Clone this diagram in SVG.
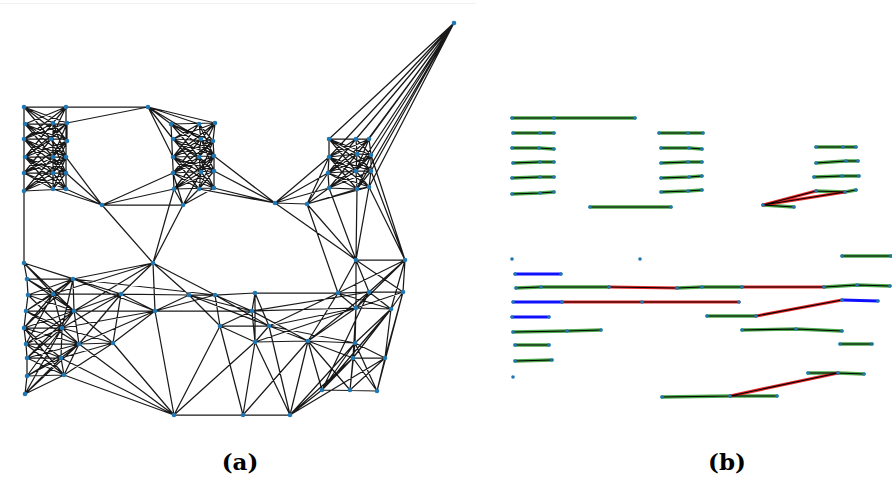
<svg xmlns="http://www.w3.org/2000/svg" width="892" height="480" viewBox="0 0 892 480">
<defs>
<style>
.e{fill:none;stroke:#000;stroke-width:1.25;stroke-opacity:0.9;stroke-linecap:round}
.n circle{fill:#1f77b4}
.na circle{r:2.3}
.nb circle{r:1.8}
.g{fill:none;stroke:#2b9a2b;stroke-width:3.4;stroke-opacity:0.85;stroke-linecap:round}
.r{fill:none;stroke:#e41010;stroke-width:3.2;stroke-opacity:0.9;stroke-linecap:round}
.b{fill:none;stroke:#1010ff;stroke-width:2.8;stroke-linecap:round}
.k{fill:none;stroke:#000;stroke-width:1.1;stroke-linecap:round}
.cap{font-family:"DejaVu Serif","Liberation Serif",serif;font-weight:bold;font-size:23px;text-anchor:middle;fill:#000}
</style>
</defs>
<rect width="892" height="480" fill="#fff"/>
<line x1="0" y1="3.5" x2="476" y2="3.5" stroke="#f0f0f0" stroke-width="1"/>

<g id="connectors-a" class="e">
<path d="M24 107H148 M25 124H67 M24 139H67 M25 157H66 M24 173H66 M24 191L66 189 M24 107V191 M66 107V189 M53 123V189 M67 123V141
M24 107L53 123 M24 107L67 123 M66 107L25 124 M66 107L53 123
M25 124L51 139 M25 124L67 141 M53 123L24 139 M53 123L67 141 M67 123L24 139 M67 123L51 139
M24 139L53 157 M24 139L66 157 M51 139L25 157 M51 139L66 157 M67 141L25 157 M67 141L53 157
M25 157L53 173 M25 157L66 173 M53 157L24 173 M53 157L66 173 M66 157L24 173 M66 157L53 173
M24 173L53 189 M24 173L66 189 M53 173L24 191 M53 173L66 189 M66 173L24 191 M66 173L53 189
M24 107L51 139 M24 107L67 141 M66 107L24 139 M66 107L51 139
M25 124L53 157 M25 124L66 157 M53 123L25 157 M53 123L66 157 M67 123L25 157 M67 123L53 157
M24 139L53 173 M24 139L66 173 M51 139L24 173 M51 139L66 173 M67 141L24 173 M67 141L53 173
M25 157L53 189 M25 157L66 189 M53 157L24 191 M53 157L66 189 M66 157L24 191 M66 157L53 189"/>
<path d="M171 124L215 123 M173 139L213 141 M173 157L214 156 M173 173L214 171 M174 189L214 188 M171 124L174 189 M199 124L201 139L199 157L201 172L199 189 M215 123L213 141L214 156L214 171L214 188
M171 124L201 139 M171 124L213 141 M199 124L173 139 M199 124L213 141 M215 123L173 139 M215 123L201 139
M173 139L199 157 M173 139L214 156 M201 139L173 157 M201 139L214 156 M213 141L173 157 M213 141L199 157
M173 157L201 172 M173 157L214 171 M199 157L173 173 M199 157L214 171 M214 156L173 173 M214 156L201 172
M173 173L199 189 M173 173L214 188 M201 172L174 189 M201 172L214 188 M214 171L174 189 M214 171L199 189
M171 124L199 157 M171 124L214 156 M199 124L173 157 M215 123L173 157 M215 123L199 157 M199 124L214 156
M173 139L201 172 M173 139L214 171 M201 139L173 173 M213 141L173 173 M213 141L201 172 M201 139L214 171
M173 157L199 189 M173 157L214 188 M199 157L174 189 M214 156L174 189 M214 156L199 189 M199 157L214 188"/>
<path d="M329 139H369 M329 157L357 154L371 155 M328 173L356 171L371 171 M329 188L357 189L369 187 M329 139L329 157L328 173L329 188 M356 139L357 154L356 171L357 189 M369 139L371 155L371 171L369 187
M329 139L357 154 M329 139L371 155 M356 139L329 157 M356 139L371 155 M369 139L329 157 M369 139L357 154
M329 157L356 171 M329 157L371 171 M357 154L328 173 M357 154L371 171 M371 155L328 173 M371 155L356 171
M328 173L357 189 M328 173L369 187 M356 171L329 188 M356 171L369 187 M371 171L329 188 M371 171L357 189
M329 139L356 171 M329 139L371 171 M356 139L328 173 M369 139L328 173 M369 139L356 171
M329 157L357 189 M329 157L369 187 M357 154L329 188 M371 155L329 188 M371 155L357 189
M454 23L329 139 M454 23L356 139 M454 23L369 139 M454 23L329 157 M454 23L357 154 M454 23L371 155 M454 23L356 171 M454 23L371 171 M454 23L357 189 M454 23L369 187"/>
<path d="M67 123L148 107 M148 107L171 124 M148 107L199 124 M148 107L215 123 M148 107L173 139 M148 107L173 157 M148 107L201 139
M66 157L102 205 M66 173L102 205 M66 189L102 205 M53 189L102 205 M24 191L24 263
M102 205L183 205 M102 205L173 173 M102 205L174 189
M183 205L174 189 M183 205L199 189 M183 205L214 188 M183 205L173 173 M183 205L201 172
M214 171L275 203 M214 188L275 203 M199 189L275 203 M214 156L275 203 M275 203L307 204
M275 203L329 157 M275 203L328 173 M275 203L329 188 M307 204L329 188 M307 204L357 189 M307 204L369 187 M307 204L328 173 M307 204L329 157
M153 263L102 205 M153 263L183 205 M174 189L153 263
M275 203L356 260 M307 204L356 260 M307 204L338 293 M357 189L356 260 M329 188L356 260 M369 187L405 260 M371 171L405 260 M371 155L405 260 M369 187L356 260"/>
<path d="M24 263L27 279L28 295L26 311L24 328L26 344L27 358L27 376L25 394 M73 279L53 294L74 311L62 328L79 344L61 358L64 375
M27 279H73 M28 295L53 294 M26 311L74 311 M24 328L62 328 M26 344L79 344 M27 358L61 358 M27 376L64 375
M73 279L24 263 M73 279L28 295 M73 279L26 311 M73 279L24 328 M73 279L74 311 M73 279L62 328
M53 294L24 263 M53 294L27 279 M53 294L26 311 M53 294L24 328 M53 294L62 328 M53 294L26 344
M74 311L27 279 M74 311L28 295 M74 311L24 328 M74 311L26 344 M74 311L79 344 M74 311L27 358
M62 328L28 295 M62 328L26 311 M62 328L26 344 M62 328L27 358 M62 328L61 358 M62 328L27 376
M79 344L26 311 M79 344L24 328 M79 344L27 358 M79 344L27 376 M79 344L64 375 M79 344L25 394
M61 358L24 328 M61 358L26 344 M61 358L27 376 M61 358L25 394
M64 375L26 344 M64 375L27 358 M64 375L25 394 M64 375L24 328 M25 394L62 328
M24 263L74 311 M24 263L121 294
M73 279L153 263 M73 279L121 294 M73 279L215 295 M73 279L155 311
M53 294L121 294L189 295L215 295L255 293L338 293L369 292L403 292
M74 311L155 311L252 311
M121 294L74 311 M121 294L62 328 M121 294L113 343 M121 294L79 344 M121 294L155 311
M113 343L79 344 M113 343L62 328 M113 343L64 375 M113 343L174 415 M113 343L155 311 M113 343L74 311 M113 343L61 358
M155 311L174 415 M155 311L62 328 M155 311L79 344 M155 311L189 295 M155 311L215 295
M64 375L174 415 M61 358L174 415 M79 344L174 415
M153 263L121 294 M153 263L155 311 M153 263L189 295 M153 263L215 295 M153 263L74 311 M153 263L53 294"/>
<path d="M189 295L220 326 M215 295L220 326 M215 295L252 311 M255 293L252 311 M255 293L255 342 M255 293L269 326 M189 295L252 311 M189 295L269 326 M215 295L269 326 M252 311L255 342 M252 311L220 326 M220 326L269 326 M269 326L308 341 M255 342L308 341 M252 311L308 341 M255 342L269 326 M220 326L255 342
M220 326L174 415 M220 326L243 415 M255 342L243 415 M255 342L290 415 M308 341L290 415 M308 341L243 415 M255 342L174 415 M269 326L290 415
M174 415L243 415L290 415
M269 326L338 293 M269 326L356 308 M252 311L356 308 M308 341L338 293 M308 341L356 308 M308 341L369 292 M308 341L355 343 M308 341L353 358 M308 341L322 390 M308 341L350 390 M255 342L356 308 M269 326L355 343 M252 311L369 292"/>
<path d="M356 260L405 260 M356 260L338 293 M356 260L369 292 M356 260L356 308 M356 260L403 292 M405 260L403 292 M405 260L369 292 M405 260L338 293 M405 260L391 309 M405 260L356 308
M338 293L356 308 M338 293L391 309 M369 292L356 308 M369 292L391 309 M403 292L391 309 M403 292L356 308 M356 308L391 309 M403 292L385 358 M403 292L377 391
M356 308L355 343 M356 308L353 358 M391 309L355 343 M391 309L385 358 M391 309L353 358 M355 343L353 358 M355 343L385 358 M353 358L385 358 M353 358L322 390 M353 358L350 390 M353 358L377 391 M385 358L350 390 M385 358L377 391 M322 390L377 391 M322 390L355 343 M350 390L355 343 M377 391L355 343
M290 415L322 390 M290 415L353 358 M290 415L355 343 M290 415L385 358 M369 292L322 390 M391 309L322 390"/>
</g>

<g class="n na">
<g id="a-L0"><circle cx="24" cy="107"/></g><g id="a-L1"><circle cx="66" cy="107"/></g>
<g id="a-L2"><circle cx="25" cy="124"/></g><g id="a-L3"><circle cx="53" cy="123"/></g><g id="a-L4"><circle cx="67" cy="123"/></g>
<g id="a-L5"><circle cx="24" cy="139"/></g><g id="a-L6"><circle cx="51" cy="139"/></g><g id="a-L7"><circle cx="67" cy="141"/></g>
<g id="a-L8"><circle cx="25" cy="157"/></g><g id="a-L9"><circle cx="53" cy="157"/></g><g id="a-L10"><circle cx="66" cy="157"/></g>
<g id="a-L11"><circle cx="24" cy="173"/></g><g id="a-L12"><circle cx="53" cy="173"/></g><g id="a-L13"><circle cx="66" cy="173"/></g>
<g id="a-L14"><circle cx="24" cy="191"/></g><g id="a-L15"><circle cx="53" cy="189"/></g><g id="a-L16"><circle cx="66" cy="189"/></g>
<g id="a-T1"><circle cx="148" cy="107"/></g><g id="a-T2"><circle cx="102" cy="205"/></g><g id="a-T3"><circle cx="183" cy="205"/></g>
<g id="a-T4"><circle cx="275" cy="203"/></g><g id="a-T5"><circle cx="307" cy="204"/></g><g id="a-T6"><circle cx="454" cy="23"/></g>
<g id="a-M0"><circle cx="171" cy="124"/></g><g id="a-M1"><circle cx="199" cy="124"/></g><g id="a-M2"><circle cx="215" cy="123"/></g>
<g id="a-M3"><circle cx="173" cy="139"/></g><g id="a-M4"><circle cx="201" cy="139"/></g><g id="a-M5"><circle cx="213" cy="141"/></g>
<g id="a-M6"><circle cx="173" cy="157"/></g><g id="a-M7"><circle cx="199" cy="157"/></g><g id="a-M8"><circle cx="214" cy="156"/></g>
<g id="a-M9"><circle cx="173" cy="173"/></g><g id="a-M10"><circle cx="201" cy="172"/></g><g id="a-M11"><circle cx="214" cy="171"/></g>
<g id="a-M12"><circle cx="174" cy="189"/></g><g id="a-M13"><circle cx="199" cy="189"/></g><g id="a-M14"><circle cx="214" cy="188"/></g>
<g id="a-R0"><circle cx="329" cy="139"/></g><g id="a-R1"><circle cx="356" cy="139"/></g><g id="a-R2"><circle cx="369" cy="139"/></g>
<g id="a-R3"><circle cx="329" cy="157"/></g><g id="a-R4"><circle cx="357" cy="154"/></g><g id="a-R5"><circle cx="371" cy="155"/></g>
<g id="a-R6"><circle cx="328" cy="173"/></g><g id="a-R7"><circle cx="356" cy="171"/></g><g id="a-R8"><circle cx="371" cy="171"/></g>
<g id="a-R9"><circle cx="329" cy="188"/></g><g id="a-R10"><circle cx="357" cy="189"/></g><g id="a-R11"><circle cx="369" cy="187"/></g>
<g id="a-B0"><circle cx="24" cy="263"/></g><g id="a-B1"><circle cx="27" cy="279"/></g><g id="a-B2"><circle cx="73" cy="279"/></g>
<g id="a-B3"><circle cx="28" cy="295"/></g><g id="a-B4"><circle cx="53" cy="294"/></g><g id="a-B5"><circle cx="121" cy="294"/></g>
<g id="a-B6"><circle cx="26" cy="311"/></g><g id="a-B7"><circle cx="74" cy="311"/></g><g id="a-B8"><circle cx="155" cy="311"/></g>
<g id="a-B9"><circle cx="24" cy="328"/></g><g id="a-B10"><circle cx="62" cy="328"/></g><g id="a-B11"><circle cx="26" cy="344"/></g>
<g id="a-B12"><circle cx="79" cy="344"/></g><g id="a-B13"><circle cx="113" cy="343"/></g><g id="a-B14"><circle cx="27" cy="358"/></g>
<g id="a-B15"><circle cx="61" cy="358"/></g><g id="a-B16"><circle cx="27" cy="376"/></g><g id="a-B17"><circle cx="64" cy="375"/></g>
<g id="a-B18"><circle cx="25" cy="394"/></g>
<g id="a-C0"><circle cx="153" cy="263"/></g><g id="a-C1"><circle cx="189" cy="295"/></g><g id="a-C2"><circle cx="215" cy="295"/></g>
<g id="a-C3"><circle cx="255" cy="293"/></g><g id="a-C4"><circle cx="252" cy="311"/></g><g id="a-C5"><circle cx="220" cy="326"/></g>
<g id="a-C6"><circle cx="269" cy="326"/></g><g id="a-C7"><circle cx="255" cy="342"/></g><g id="a-C8"><circle cx="308" cy="341"/></g>
<g id="a-D0"><circle cx="174" cy="415"/></g><g id="a-D1"><circle cx="243" cy="415"/></g><g id="a-D2"><circle cx="290" cy="415"/></g>
<g id="a-E0"><circle cx="356" cy="260"/></g><g id="a-E1"><circle cx="405" cy="260"/></g><g id="a-E2"><circle cx="338" cy="293"/></g>
<g id="a-E3"><circle cx="369" cy="292"/></g><g id="a-E4"><circle cx="403" cy="292"/></g><g id="a-E5"><circle cx="356" cy="308"/></g>
<g id="a-E6"><circle cx="391" cy="309"/></g><g id="a-E7"><circle cx="355" cy="343"/></g><g id="a-E8"><circle cx="353" cy="358"/></g>
<g id="a-E9"><circle cx="385" cy="358"/></g><g id="a-E10"><circle cx="322" cy="390"/></g><g id="a-E11"><circle cx="350" cy="390"/></g>
<g id="a-E12"><circle cx="377" cy="391"/></g>
</g>

<g id="connectors-b">
<path class="g" d="M512 118L635 118 M513 133L540 133L554 133 M512 148L539 148L554 149 M513 163L540 162L554 162 M512 178L540 177L554 177 M512 194L540 193L554 192 M590 207L671 207
M659 133L703 133 M661 148L689 148L702 149 M661 163L688 162L702 162 M661 178L689 177L702 176 M661 192L688 191L702 190
M816 147L843 147L856 147 M816 163L846 161L858 161 M814 177L842 176L859 176 M816 191L845 192L856 190 M763 205L794 207
M516 288L541 287L609 287 M677 288L702 287L742 287 M824 287L857 285L890 286 M513 332L567 331L601 330 M515 345L549 345 M515 361L552 360 M842 256L891 256 M707 316L756 316 M742 330L796 329L842 331 M840 344L872 344 M808 373L838 373L864 374 M662 397L730 396L777 396"/>
<path class="r" d="M763 205L816 191 M763 205L845 192 M609 287L677 288 M742 287L824 287 M562 302L642 302L739 302 M756 316L842 300 M730 396L838 373"/>
<path class="k" d="M512 118L635 118 M513 133L540 133L554 133 M512 148L539 148L554 149 M513 163L540 162L554 162 M512 178L540 177L554 177 M512 194L540 193L554 192 M590 207L671 207
M659 133L703 133 M661 148L689 148L702 149 M661 163L688 162L702 162 M661 178L689 177L702 176 M661 192L688 191L702 190
M816 147L843 147L856 147 M816 163L846 161L858 161 M814 177L842 176L859 176 M816 191L845 192L856 190 M763 205L794 207
M516 288L541 287L609 287 M677 288L702 287L742 287 M824 287L857 285L890 286 M513 332L567 331L601 330 M515 345L549 345 M515 361L552 360 M842 256L891 256 M707 316L756 316 M742 330L796 329L842 331 M840 344L872 344 M808 373L838 373L864 374 M662 397L730 396L777 396
M763 205L816 191 M763 205L845 192 M609 287L677 288 M742 287L824 287 M562 302L642 302L739 302 M756 316L842 300 M730 396L838 373"/>
<path class="b" d="M515 274L561 274 M513 302L562 302 M512 317L549 317 M842 300L878 301"/>
</g>

<g class="n nb">
<g id="b1"><circle cx="512" cy="118"/></g><g id="b2"><circle cx="554" cy="118"/></g><g id="b3"><circle cx="635" cy="118"/></g>
<g id="b4"><circle cx="513" cy="133"/></g><g id="b5"><circle cx="540" cy="133"/></g><g id="b6"><circle cx="554" cy="133"/></g>
<g id="b7"><circle cx="512" cy="148"/></g><g id="b8"><circle cx="539" cy="148"/></g><g id="b9"><circle cx="554" cy="149"/></g>
<g id="b10"><circle cx="513" cy="163"/></g><g id="b11"><circle cx="540" cy="162"/></g><g id="b12"><circle cx="554" cy="162"/></g>
<g id="b13"><circle cx="512" cy="178"/></g><g id="b14"><circle cx="540" cy="177"/></g><g id="b15"><circle cx="554" cy="177"/></g>
<g id="b16"><circle cx="512" cy="194"/></g><g id="b17"><circle cx="540" cy="193"/></g><g id="b18"><circle cx="554" cy="192"/></g>
<g id="b19"><circle cx="590" cy="207"/></g><g id="b20"><circle cx="671" cy="207"/></g>
<g id="b21"><circle cx="659" cy="133"/></g><g id="b22"><circle cx="688" cy="133"/></g><g id="b23"><circle cx="703" cy="133"/></g>
<g id="b24"><circle cx="661" cy="148"/></g><g id="b25"><circle cx="689" cy="148"/></g><g id="b26"><circle cx="702" cy="149"/></g>
<g id="b27"><circle cx="661" cy="163"/></g><g id="b28"><circle cx="688" cy="162"/></g><g id="b29"><circle cx="702" cy="162"/></g>
<g id="b30"><circle cx="661" cy="178"/></g><g id="b31"><circle cx="689" cy="177"/></g><g id="b32"><circle cx="702" cy="176"/></g>
<g id="b33"><circle cx="661" cy="192"/></g><g id="b34"><circle cx="688" cy="191"/></g><g id="b35"><circle cx="702" cy="190"/></g>
<g id="b36"><circle cx="816" cy="147"/></g><g id="b37"><circle cx="843" cy="147"/></g><g id="b38"><circle cx="856" cy="147"/></g>
<g id="b39"><circle cx="816" cy="163"/></g><g id="b40"><circle cx="846" cy="161"/></g><g id="b41"><circle cx="858" cy="161"/></g>
<g id="b42"><circle cx="814" cy="177"/></g><g id="b43"><circle cx="842" cy="176"/></g><g id="b44"><circle cx="859" cy="176"/></g>
<g id="b45"><circle cx="816" cy="191"/></g><g id="b46"><circle cx="845" cy="192"/></g><g id="b47"><circle cx="856" cy="190"/></g>
<g id="b48"><circle cx="763" cy="205"/></g><g id="b49"><circle cx="794" cy="207"/></g>
<g id="b50"><circle cx="512" cy="259"/></g><g id="b51"><circle cx="640" cy="259"/></g><g id="b52"><circle cx="513" cy="377"/></g>
<g id="b53"><circle cx="515" cy="274"/></g><g id="b54"><circle cx="561" cy="274"/></g>
<g id="b55"><circle cx="516" cy="288"/></g><g id="b56"><circle cx="541" cy="287"/></g><g id="b57"><circle cx="609" cy="287"/></g><g id="b58"><circle cx="677" cy="288"/></g><g id="b59"><circle cx="702" cy="287"/></g><g id="b60"><circle cx="742" cy="287"/></g><g id="b61"><circle cx="824" cy="287"/></g><g id="b62"><circle cx="857" cy="285"/></g><g id="b63"><circle cx="890" cy="286"/></g>
<g id="b64"><circle cx="513" cy="302"/></g><g id="b65"><circle cx="562" cy="302"/></g><g id="b66"><circle cx="642" cy="302"/></g><g id="b67"><circle cx="739" cy="302"/></g>
<g id="b68"><circle cx="512" cy="317"/></g><g id="b69"><circle cx="549" cy="317"/></g>
<g id="b70"><circle cx="513" cy="332"/></g><g id="b71"><circle cx="567" cy="331"/></g><g id="b72"><circle cx="601" cy="330"/></g>
<g id="b73"><circle cx="515" cy="345"/></g><g id="b74"><circle cx="549" cy="345"/></g>
<g id="b75"><circle cx="515" cy="361"/></g><g id="b76"><circle cx="552" cy="360"/></g>
<g id="b77"><circle cx="842" cy="256"/></g><g id="b78"><circle cx="891" cy="256"/></g>
<g id="b79"><circle cx="707" cy="316"/></g><g id="b80"><circle cx="756" cy="316"/></g><g id="b81"><circle cx="842" cy="300"/></g><g id="b82"><circle cx="878" cy="301"/></g>
<g id="b83"><circle cx="742" cy="330"/></g><g id="b84"><circle cx="796" cy="329"/></g><g id="b85"><circle cx="842" cy="331"/></g>
<g id="b86"><circle cx="840" cy="344"/></g><g id="b87"><circle cx="872" cy="344"/></g>
<g id="b88"><circle cx="808" cy="373"/></g><g id="b89"><circle cx="838" cy="373"/></g><g id="b90"><circle cx="864" cy="374"/></g>
<g id="b91"><circle cx="662" cy="397"/></g><g id="b92"><circle cx="730" cy="396"/></g><g id="b93"><circle cx="777" cy="396"/></g>
</g>

<text class="cap" x="240" y="470">(a)</text>
<text class="cap" x="727" y="470">(b)</text>
</svg>
